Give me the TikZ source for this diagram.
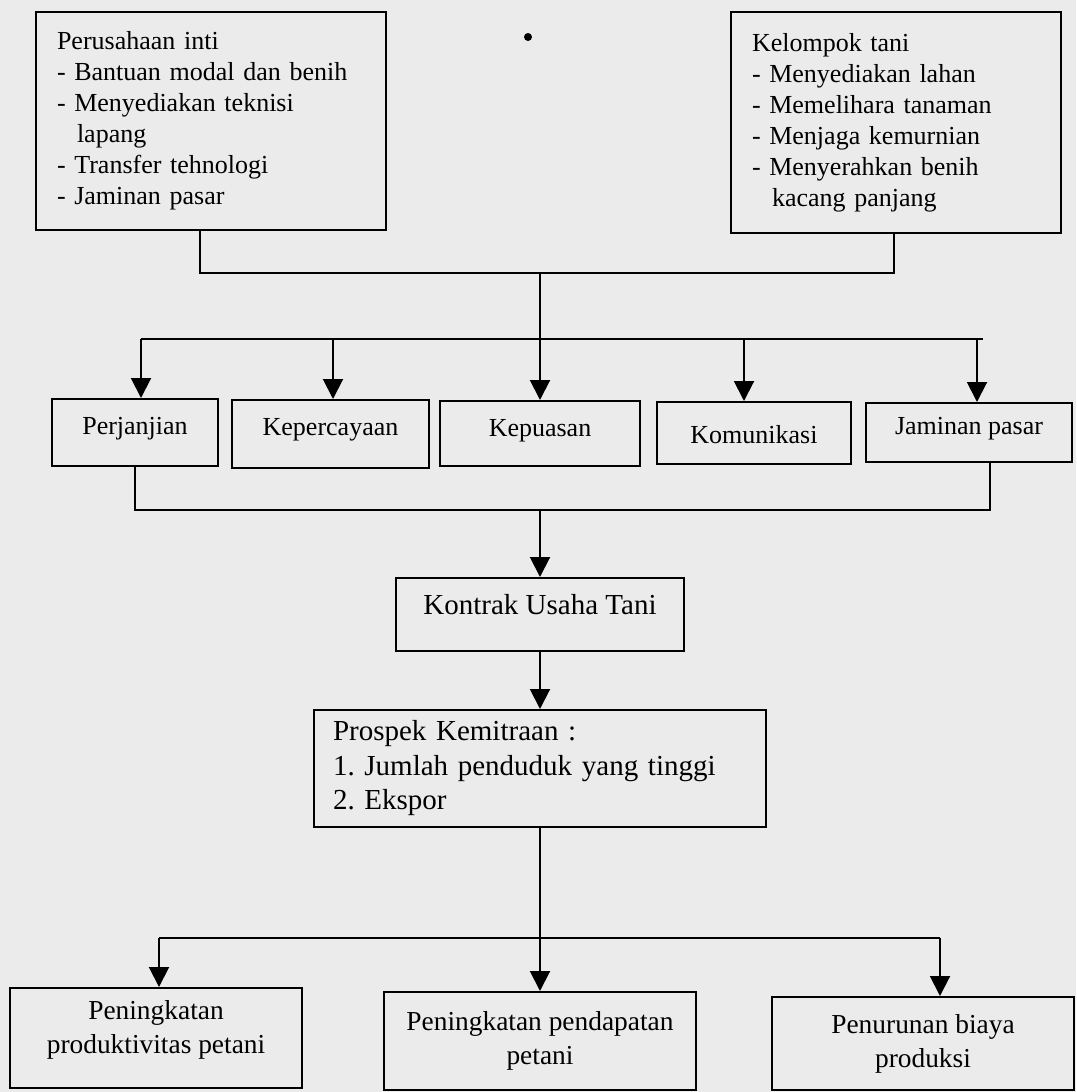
\documentclass[tikz,border=0pt]{standalone}
\usepackage{fontspec}
\setmainfont{Liberation Serif}
\usetikzlibrary{arrows.meta}
\definecolor{scanbg}{RGB}{235,235,235}
\frenchspacing
\tikzset{
  flowline/.style={line width=1pt},
  arr/.style={flowline, -{Triangle[length=10pt,width=10pt]}},
  listbox/.style={draw, line width=1pt, align=left, inner xsep=10.5pt, font=\fontsize{13}{15.5}\selectfont},
  rowbox/.style={draw, line width=1pt, inner sep=0pt, anchor=north, font=\fontsize{13}{15.5}\selectfont},
  endbox/.style={draw, line width=1pt, align=center, inner sep=0pt, font=\fontsize{13.7}{17}\selectfont},
}
\begin{document}
\begin{tikzpicture}[x=0.5pt, y=-0.5pt]
    % Frame
    \fill[scanbg] (0,0) rectangle (1076,1092);
    \useasboundingbox (0,0) rectangle (1076,1092);

    % Define points
    \coordinate (T1) at (200,273);
    \coordinate (T2) at (894,273);
    \coordinate (J1) at (540,273);
    \coordinate (D1) at (141,339);
    \coordinate (D2) at (333,339);
    \coordinate (D4) at (744,339);
    \coordinate (D5) at (977,339);
    \coordinate (D6) at (983,339);
    \coordinate (C1) at (135,510);
    \coordinate (C2) at (990,510);
    \coordinate (C3) at (540,510);
    \coordinate (B1) at (159,938);
    \coordinate (B3) at (940,938);

    % Top boxes
    \node[listbox, text width=154pt, minimum height=109pt] (inti) at (211,121)
        {Perusahaan inti\\- Bantuan modal dan benih\\- Menyediakan teknisi\\\hspace*{10pt}lapang\\- Transfer tehnologi\\- Jaminan pasar};
    \node[listbox, text width=144pt, minimum height=110.5pt] (tani) at (896,122.5)
        {Kelompok tani\\- Menyediakan lahan\\- Memelihara tanaman\\- Menjaga kemurnian\\- Menyerahkan benih\\\hspace*{10pt}kacang panjang};
    \fill (528,37) circle (2pt);

    % Middle row
    \node[rowbox, minimum width=83pt, text height=17.5pt, text depth=16pt] (perj) at (135,398) {Perjanjian};
    \node[rowbox, minimum width=98.5pt, text height=17.5pt, text depth=16.5pt] (keperc) at (330.5,399) {Kepercayaan};
    \node[rowbox, minimum width=100pt, text height=17.5pt, text depth=15pt] (kepuasan) at (540,400) {Kepuasan};
    \node[rowbox, minimum width=97pt, text height=20.5pt, text depth=10.5pt] (komun) at (754,401) {Komunikasi};
    \node[rowbox, minimum width=103pt, text height=15.5pt, text depth=14pt] (jamin) at (969,402) {Jaminan pasar};

    % Contract and prospects
    \node[rowbox, minimum width=144pt, text height=18pt, text depth=18.5pt, font=\fontsize{14.5}{17.25}\selectfont] (kontrak) at (540,577) {Kontrak Usaha Tani};
    \node[listbox, text width=207pt, inner xsep=9.5pt, minimum height=58.5pt, font=\fontsize{14.5}{17.25}\selectfont] (prospek) at (540,768.5)
        {Prospek Kemitraan :\\1. Jumlah penduduk yang tinggi\\2. Ekspor};

    % Results
    \node[endbox, minimum width=146pt, minimum height=50pt] (hasil1) at (156,1038) {Peningkatan\\produktivitas petani\\[-6pt]\mbox{}};
    \node[endbox, minimum width=156pt, minimum height=49pt] (hasil2) at (540,1041) {Peningkatan pendapatan\\petani};
    \node[endbox, minimum width=151pt, minimum height=46.5pt] (hasil3) at (923,1043.5) {Penurunan biaya\\produksi};

    % Connectors
    \draw[flowline] (inti.south -| T1) -- (T1) -- (T2) -- (tani.south -| T2);
    \draw[arr] (J1) -- (J1 |- kepuasan.north);
    \draw[flowline] (D1) -- (D6);
    \foreach \p/\n in {D1/perj, D2/keperc, D4/komun, D5/jamin}
        \draw[arr] (\p) -- (\p |- \n.north);
    \draw[flowline] (perj.south -| C1) -- (C1) -- (C2) -- (jamin.south -| C2);
    \draw[arr] (C3) -- (C3 |- kontrak.north);
    \draw[arr] (kontrak.south) -- (prospek.north);
    \draw[arr] (prospek.south) -- (hasil2.north);
    \draw[flowline] (B1) -- (B3);
    \draw[arr] (B1) -- (B1 |- hasil1.north);
    \draw[arr] (B3) -- (B3 |- hasil3.north);
\end{tikzpicture}
\end{document}
